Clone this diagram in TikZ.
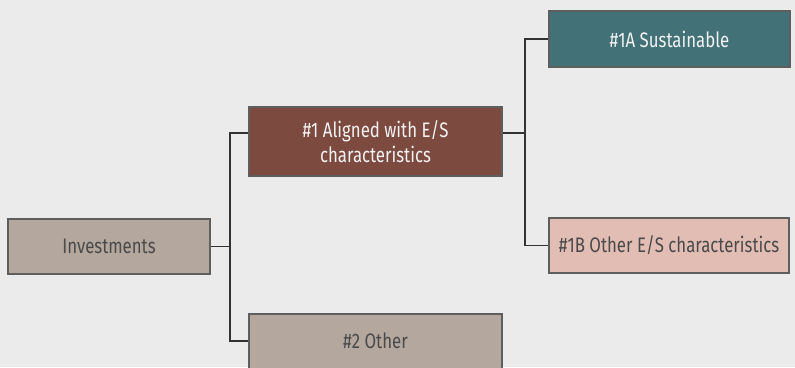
\documentclass[tikz,border=0pt]{standalone}
\usepackage{fontspec}
\setmainfont{Fira Sans}[FakeStretch=0.8]
\definecolor{bg}{HTML}{EBEBEB}
\definecolor{taupe}{HTML}{B3A79E}
\definecolor{brick}{HTML}{7D4A40}
\definecolor{teal}{HTML}{427278}
\definecolor{pink}{HTML}{E2BDB4}
\definecolor{edge}{HTML}{5E5E5E}
\definecolor{darktext}{HTML}{4A4A4A}
\definecolor{lighttext}{HTML}{F2F2F2}
\begin{document}
\begin{tikzpicture}[x=1pt,y=-1pt,
  box/.style={draw=edge,line width=2pt,minimum height=55pt,inner sep=0pt,align=center,font=\fontsize{21}{25}\selectfont},
  link/.style={draw=black!80,line width=1.5pt}]
\useasboundingbox (0,0) rectangle (795,367);
\clip (0,0) rectangle (795,367);
\fill[bg] (0,0) rectangle (795,367);
\node[box,fill=taupe,text=darktext,minimum width=202pt] (inv) at (109,246.5) {Investments};
\node[box,fill=brick,text=lighttext,minimum width=253pt,minimum height=69pt] (a1) at (375.5,141.5) {\#1 Aligned with E/S\\characteristics};
\node[box,fill=teal,text=lighttext,minimum width=241pt,minimum height=56pt] (a1a) at (669.5,39) {\#1A Sustainable};
\node[box,fill=pink,text=darktext,minimum width=240pt] (a1b) at (669,245.5) {\#1B Other E/S characteristics};
\node[box,fill=taupe,text=darktext,minimum width=253pt] (a2) at (375.5,341) {\#2 Other};
\coordinate (j1) at (230,246.5);
\coordinate (j2) at (525,133);
\draw[link] (inv.east) -- (j1);
\draw[link] (a1.west |- 0,133) -| (j1) |- (a2.west);
\draw[link] (a1.east |- j2) -- (j2);
\draw[link] (a1a.west) -| (j2) |- (a1b.west);
\end{tikzpicture}
\end{document}
